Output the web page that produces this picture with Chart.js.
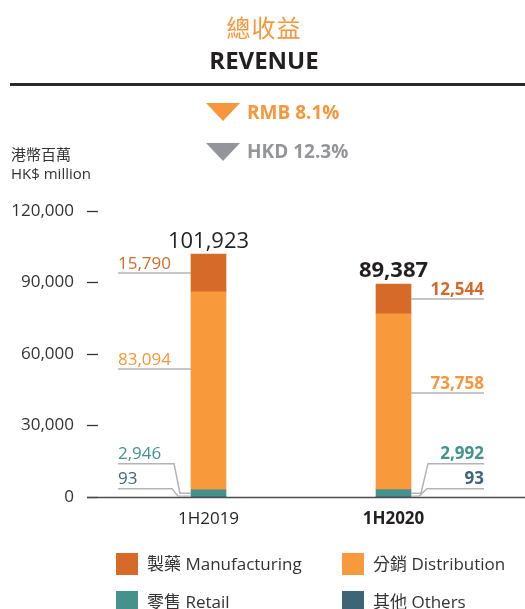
<!DOCTYPE html>
<html>
<head>
<meta charset="utf-8">
<script src="https://cdn.jsdelivr.net/npm/chart.js@4.4.1/dist/chart.umd.min.js"></script>
<style>
html,body{margin:0;padding:0;background:#fff;}
#wrap{position:relative;width:525px;height:609px;overflow:hidden;font-family:"Open Sans","Noto Sans CJK TC",sans-serif;}
#wrap canvas{position:absolute;left:0;top:0;}
.t{position:absolute;white-space:nowrap;}
.tri{position:absolute;width:0;height:0;border-left:17.5px solid transparent;border-right:17.5px solid transparent;border-top:18px solid #F7963A;}
</style>
</head>
<body>
<div id="wrap">
  <canvas id="c" width="525" height="609"></canvas>
  <div class="t" style="left:0;width:528px;text-align:center;top:15px;font-size:24px;line-height:24px;letter-spacing:1px;color:#F7963A;font-family:'Noto Sans CJK TC',sans-serif;">總收益</div>
  <div class="t" style="left:0;width:528px;text-align:center;top:48px;font-size:24px;line-height:24px;font-weight:bold;color:#231F20;">REVENUE</div>
  <div class="t" style="left:10px;width:515px;top:83px;height:3px;background:#2b2b2b;"></div>
  <div class="tri" style="left:206px;top:103px;"></div>
  <div class="t" style="left:247px;top:103px;font-size:19px;line-height:19px;font-weight:bold;color:#F7963A;">RMB 8.1%</div>
  <div class="tri" style="left:206px;top:143px;border-top-color:#939598;"></div>
  <div class="t" style="left:247px;top:142px;font-size:19px;line-height:19px;font-weight:bold;color:#939598;">HKD 12.3%</div>
  <div class="t" style="left:11px;top:146px;font-size:15px;line-height:16px;color:#333;font-family:'Noto Sans CJK TC',sans-serif;">港幣百萬</div>
  <div class="t" style="left:11px;top:166px;font-size:15px;line-height:15px;color:#333;">HK$ million</div>
</div>
<script>
// ---- data ----
const categories = ['1H2019', '1H2020'];
const others = [93, 93];
const retail = [2946, 2992];
const distribution = [83094, 73758];
const manufacturing = [15790, 12544];
const totals = [101923, 89387];
const yTicks = [0, 30000, 60000, 90000, 120000];
const seriesNames = {
  manufacturing: '製藥 Manufacturing',
  distribution: '分銷 Distribution',
  retail: '零售 Retail',
  others: '其他 Others'
};

// ---- styles ----
const FONT = '"Open Sans","Noto Sans CJK TC",sans-serif';
const COLORS = {
  manufacturing: '#D56A29',
  distribution: '#F89A3C',
  retail: '#45928C',
  others: '#3D6577'
};
const LABEL_COLORS = {
  manufacturing: '#D4692A',
  distribution: '#F7963A',
  retail: '#45928C',
  others: '#3D6577'
};
const distFrac = [0.39, 0.45];

const fmt = v => v.toLocaleString('en-US');

const datasets = [
  {key: 'others', label: seriesNames.others, data: others, backgroundColor: COLORS.others},
  {key: 'retail', label: seriesNames.retail, data: retail, backgroundColor: COLORS.retail},
  {key: 'distribution', label: seriesNames.distribution, data: distribution, backgroundColor: COLORS.distribution},
  {key: 'manufacturing', label: seriesNames.manufacturing, data: manufacturing, backgroundColor: COLORS.manufacturing}
];

const annot = {
  id: 'annot',
  beforeDatasetsDraw(chart) {
    const {ctx, chartArea, scales: {y}} = chart;
    const y0 = y.getPixelForValue(0);
    ctx.save();
    ctx.strokeStyle = '#4d4d4f';
    ctx.lineWidth = 1.5;
    ctx.beginPath();
    ctx.moveTo(chartArea.left - 29, y0 + 0.5);
    ctx.lineTo(chart.width, y0 + 0.5);
    ctx.stroke();
    ctx.restore();
  },
  afterDatasetsDraw(chart) {
    const {ctx} = chart;
    const el = (d, i) => chart.getDatasetMeta(d).data[i];
    ctx.save();
    categories.forEach((cat, i) => {
      const side = i === 0 ? -1 : 1;
      const weight = i === 0 ? 'normal' : 'bold';
      const m = el(3, i), dd = el(2, i), r = el(1, i), o = el(0, i);
      const half = m.width / 2;
      const edge = m.x + side * half;
      const outer = edge + side * 73;
      ctx.textAlign = side < 0 ? 'left' : 'right';
      ctx.textBaseline = 'alphabetic';
      ctx.font = weight + ' 17px ' + FONT;
      ctx.strokeStyle = '#B1B3B6';
      ctx.lineWidth = 1.5;
      const hline = (yy) => {
        ctx.beginPath(); ctx.moveTo(outer, yy); ctx.lineTo(edge, yy); ctx.stroke();
      };
      // manufacturing
      const my = (m.y + m.base) / 2;
      hline(my);
      ctx.fillStyle = LABEL_COLORS.manufacturing;
      ctx.fillText(fmt(manufacturing[i]), outer, my - 4);
      // distribution
      const dy = dd.y + distFrac[i] * (dd.base - dd.y);
      hline(dy);
      ctx.fillStyle = LABEL_COLORS.distribution;
      ctx.fillText(fmt(distribution[i]), outer, dy - 4);
      // others / retail elbows
      const oc = (o.y + o.base) / 2;
      const rc = (r.y + r.base) / 2;
      const oy = oc - 8;
      const ry = oc - 33;
      const kinks = side < 0 ? {r: [17, 11], o: [19, 13]} : {r: [17, 10], o: [16, 8]};
      const elbow = (yOut, yIn, k) => {
        ctx.beginPath();
        ctx.moveTo(outer, yOut);
        ctx.lineTo(edge + side * k[0], yOut);
        ctx.lineTo(edge + side * k[1], yIn);
        ctx.lineTo(edge, yIn);
        ctx.stroke();
      };
      elbow(ry, rc, kinks.r);
      elbow(oy, oc - 0.5, kinks.o);
      ctx.fillStyle = LABEL_COLORS.retail;
      ctx.fillText(fmt(retail[i]), outer, ry - 5);
      ctx.fillStyle = LABEL_COLORS.others;
      ctx.fillText(fmt(others[i]), outer, oy - 5);
      // totals
      ctx.textAlign = 'center';
      ctx.fillStyle = '#231F20';
      ctx.font = weight + ' 22px ' + FONT;
      ctx.fillText(fmt(totals[i]), m.x, m.y - 6.5);
    });
    ctx.restore();
  },
  afterDraw(chart) {
    const {ctx, chartArea} = chart;
    const order = [3, 2, 1, 0];
    ctx.save();
    ctx.font = '17px ' + FONT;
    ctx.textBaseline = 'middle';
    ctx.textAlign = 'left';
    order.forEach((d, k) => {
      const ds = chart.data.datasets[d];
      const col = k % 2, row = Math.floor(k / 2);
      const bx = chartArea.left + col * 226;
      const by = 553 + row * 38;
      ctx.fillStyle = ds.backgroundColor;
      ctx.fillRect(bx, by, 22, 22);
      ctx.fillStyle = '#333';
      ctx.fillText(ds.label, bx + 31, by + 12);
    });
    ctx.restore();
  }
};

new Chart(document.getElementById('c'), {
  type: 'bar',
  data: {
    labels: categories,
    datasets: datasets.map(d => ({label: d.label, data: d.data, backgroundColor: d.backgroundColor, borderWidth: 0, barThickness: 35}))
  },
  options: {
    responsive: false,
    animation: false,
    events: [],
    layout: {padding: {left: 10, right: 39, top: 211, bottom: 0}},
    plugins: {legend: {display: false}, tooltip: {enabled: false}},
    scales: {
      x: {
        stacked: true,
        offset: true,
        grid: {display: false, drawTicks: false},
        border: {display: false},
        ticks: {
          padding: 12,
          color: '#231F20',
          font: c => ({family: FONT, size: 17, weight: c.index === 1 ? 'bold' : 'normal'})
        },
        afterFit: s => { s.height = 112; }
      },
      y: {
        stacked: true,
        min: 0,
        max: 120000,
        afterBuildTicks: s => { s.ticks = yTicks.map(v => ({value: v})); },
        grid: {display: true, drawOnChartArea: false, drawTicks: true, tickLength: 29, tickWidth: 1.3, tickColor: '#333', tickBorderDash: [11, 40]},
        border: {display: false},
        ticks: {padding: 13, color: '#333', font: {family: FONT, size: 17}, callback: v => fmt(v)},
        afterFit: s => { s.width = 106; }
      }
    }
  },
  plugins: [annot]
});
</script>
</body>
</html>
